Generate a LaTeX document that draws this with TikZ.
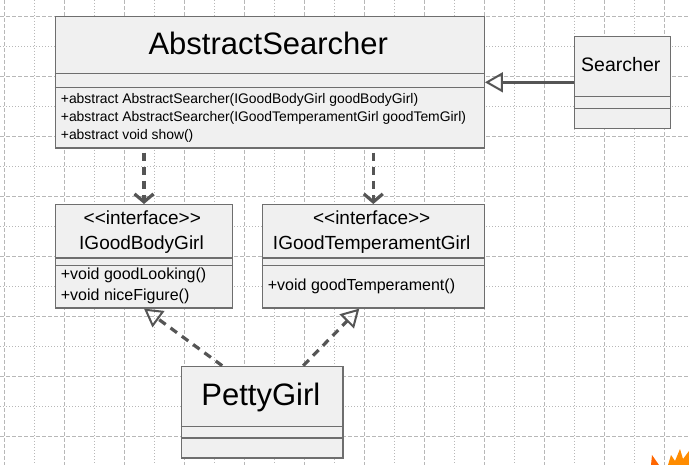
\documentclass[tikz,border=0pt]{standalone}
\usepackage{fontspec}
\setmainfont{Liberation Sans}
\usetikzlibrary{arrows.meta}
\definecolor{boxfill}{HTML}{F0F0F0}
\definecolor{boxline}{HTML}{6E6E6E}
\definecolor{linkcol}{HTML}{555555}
\definecolor{gridcol}{HTML}{B8B8B8}
\newcommand{\fs}[1]{\fontsize{#1}{#1}\selectfont}

\begin{document}
\begin{tikzpicture}[x=1pt,y=-1pt,
    cls/.style={rectangle,draw=boxline,fill=boxfill,line width=1.3pt,inner sep=0pt},
    sep/.style={draw=boxline,line width=1.3pt},
    txt/.style={inner sep=0pt,anchor=base},
    mem/.style={inner sep=0pt,anchor=base west},
    gen/.style={draw=linkcol,line width=3.5pt,-{Triangle[open,length=18pt,width=20pt,line width=2pt]}},
    dep/.style={draw=linkcol,line width=3.2pt,dash pattern=on 8pt off 6pt,dash phase=10pt,-{Straight Barb[length=8pt,width=19pt]}},
    real/.style={draw=linkcol,line width=3.2pt,dash pattern=on 8pt off 6pt,-{Triangle[open,length=18pt,width=20pt,line width=2pt]}}]

       \useasboundingbox (0,0) rectangle (689,465);
       \fill[white] (0,0) rectangle (689,465);

       % grid
       \foreach \x in {4,64,...,664} \draw[gridcol,line width=0.8pt,dash pattern=on 4pt off 2pt] (\x,0) -- (\x,465);
       \foreach \x in {34,94,...,634} \draw[gridcol,line width=0.8pt,dash pattern=on 1pt off 2pt] (\x,0) -- (\x,465);
       \foreach \y in {16,76,...,436} \draw[gridcol,line width=0.8pt,dash pattern=on 4pt off 2pt] (0,\y) -- (689,\y);
       \foreach \y in {46,106,...,406} \draw[gridcol,line width=0.8pt,dash pattern=on 1pt off 2pt] (0,\y) -- (689,\y);

       % classes
       \node[cls,minimum width=429pt,minimum height=131.7pt] (1) at (269.8,82.2) {};
       \node[cls,minimum width=96pt,minimum height=92pt] (2) at (622.3,82.3) {};
       \node[cls,minimum width=176.6pt,minimum height=103.3pt] (3) at (144,256.3) {};
       \node[cls,minimum width=222pt,minimum height=103.3pt] (4) at (373.3,256.3) {};
       \node[cls,minimum width=161.7pt,minimum height=91.7pt] (5) at (262.2,412.2) {};

       \foreach \n/\a/\b in {1/73.3/87.3, 2/96.3/108.7, 3/258/265.7, 4/258/265.7, 5/426.7/438} {
         \draw[sep] (\n.west |- 0,\a) -- (\n.east |- 0,\a);
         \draw[sep] (\n.west |- 0,\b) -- (\n.east |- 0,\b);
       }

       \node[txt,font=\fs{31}] (1t) at (268.3,55) {AbstractSearcher};
       \node[mem,font=\fs{13.9}] (1a) at (60.7,103.3) {+abstract AbstractSearcher(IGoodBodyGirl goodBodyGirl)};
       \node[mem,font=\fs{13.9}] (1b) at (60.7,121.3) {+abstract AbstractSearcher(IGoodTemperamentGirl goodTemGirl)};
       \node[mem,font=\fs{13.9}] (1c) at (60.7,139.3) {+abstract void show()};

       \node[txt,font=\fs{19.5}] (2t) at (620.8,71.7) {Searcher};

       \node[txt,font=\fs{19}] (3s) at (142.3,224.3) {<{}<interface>{}>};
       \node[txt,font=\fs{19}] (3t) at (141.5,250) {IGoodBodyGirl};
       \node[mem,font=\fs{16}] (3a) at (60.7,279.3) {+void goodLooking()};
       \node[mem,font=\fs{16}] (3b) at (60.7,301) {+void niceFigure()};

       \node[txt,font=\fs{19}] (4s) at (371.7,224.3) {<{}<interface>{}>};
       \node[txt,font=\fs{19}] (4t) at (371.7,250) {IGoodTemperamentGirl};
       \node[mem,font=\fs{16}] (4a) at (267.7,291) {+void goodTemperament()};

       \node[txt,font=\fs{31}] (5t) at (260.8,406) {PettyGirl};

       % links
       \draw[gen] (2.west) -- (2.west -| 1.east);
       \draw[dep] (1.south -| 3.north) -- (3.north);
       \draw[dep] (1.south -| 4.north) -- (4.north);
       \draw[real] ([xshift=-40pt]5.north) -- (3.south);
       \draw[real] ([xshift=41pt]5.north) -- ([xshift=-14pt]4.south);

       % corner leaves
       \fill[orange!80!red] (652,455) -- (659,465) -- (651,465) -- cycle;
       \fill[orange!90!yellow] (668,465) -- (671,455) -- (675,461) -- (680,449) -- (683,459) -- (689,451) -- (689,465) -- cycle;
     \end{tikzpicture}
\end{document}
